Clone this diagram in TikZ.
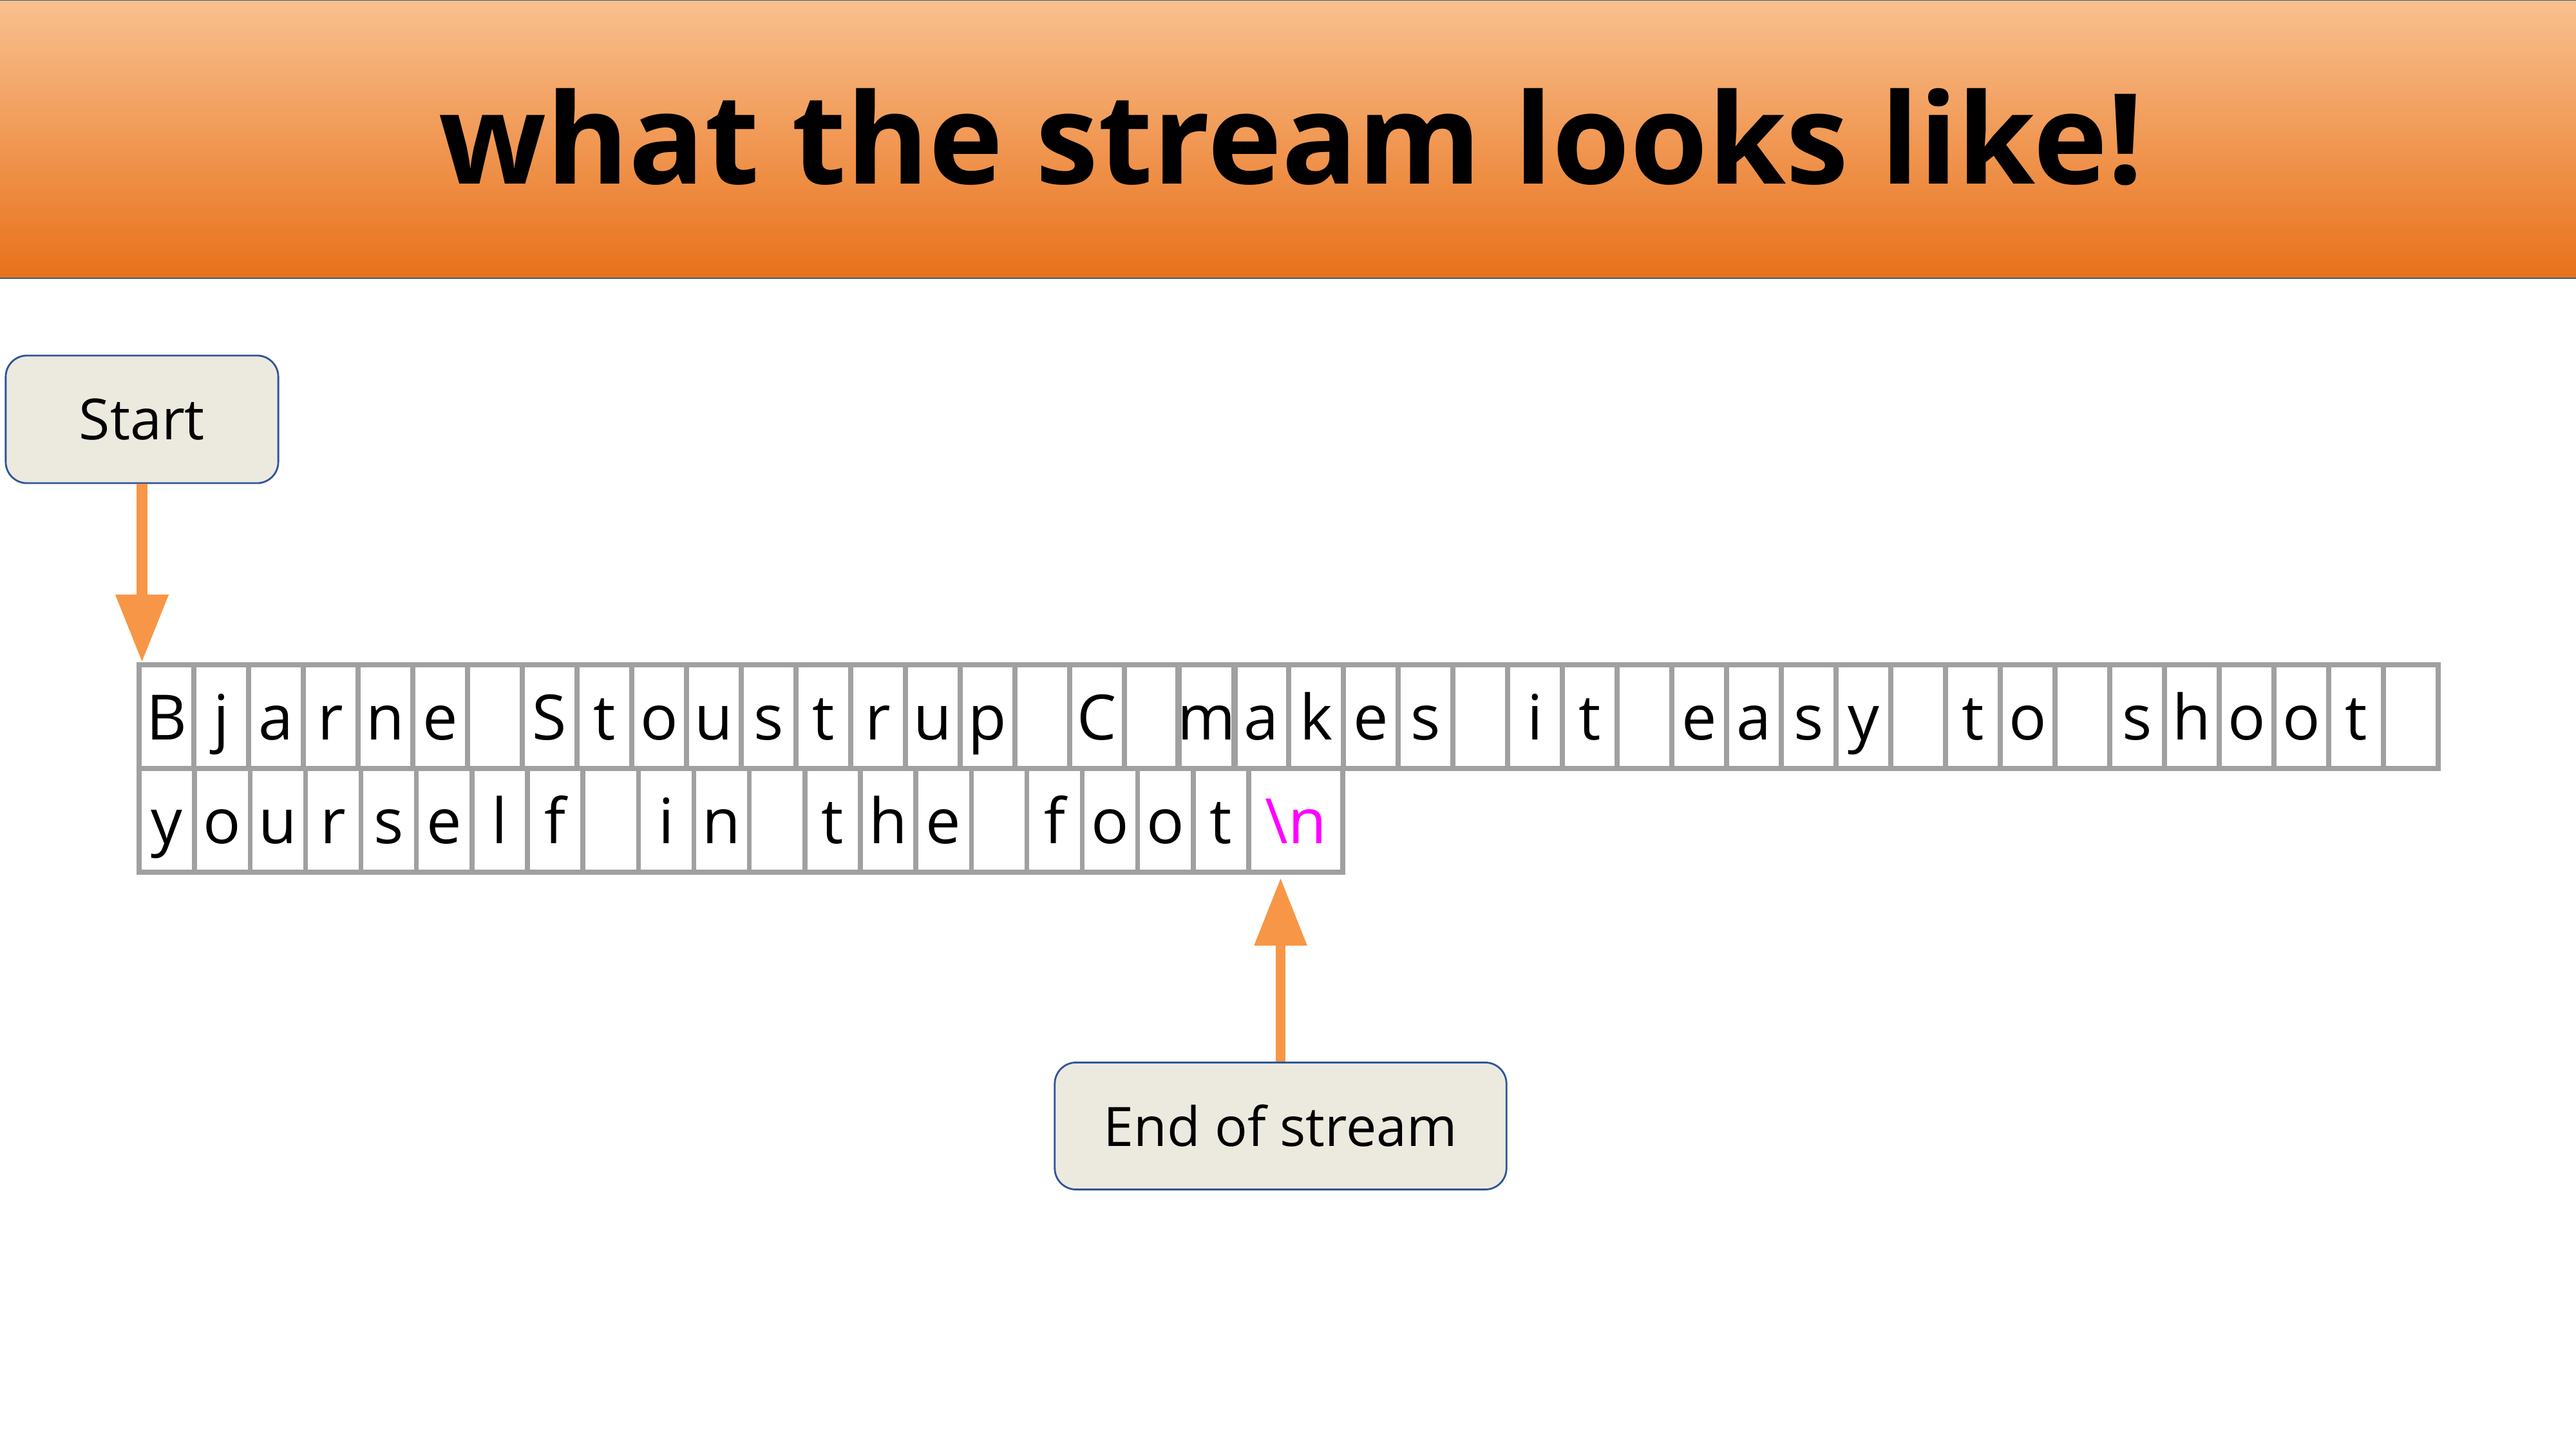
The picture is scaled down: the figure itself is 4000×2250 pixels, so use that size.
\documentclass[tikz,border=0pt]{standalone}
\usepackage{fontspec}
\setmainfont{Open Sans}
\usetikzlibrary{arrows.meta}
\definecolor{gridgray}{HTML}{A0A0A0}
\definecolor{headtop}{HTML}{F9C08F}
\definecolor{headbot}{HTML}{E8711A}
\definecolor{headline}{HTML}{3A5A8C}
\definecolor{boxfill}{HTML}{ECEADF}
\definecolor{boxline}{HTML}{2F5597}
\definecolor{arroworange}{HTML}{F79646}
\definecolor{nlmagenta}{HTML}{FF00FF}
\tikzset{
  cell/.style={draw=gridgray, line width=2.1pt, inner sep=0pt,
    minimum height=1.61cm, text height=0.72cm, text depth=0cm,
    font=\fontsize{27.6}{33}\selectfont},
  labelbox/.style={draw=boxline, line width=0.8pt, fill=boxfill,
    rounded corners=0.33cm, inner sep=0pt},
  pointer/.style={draw=arroworange,
    -{Triangle[width=0.78cm,length=1.05cm]}}
}
\begin{document}
\begin{tikzpicture}[x=0.01cm,y=-0.01cm]
\useasboundingbox (0,0) rectangle (4000,2250);

% title bar
\node[draw=headline, line width=0.4pt, top color=headtop, bottom color=headbot,
      minimum width=40cm, minimum height=4.32cm, inner sep=0pt] (header) at (2000,216) {};
\node[anchor=base, inner sep=0pt, font=\fontsize{55.5}{66}\selectfont\bfseries] (title) at (2005,285)
  {what the stream looks like!};

% first line of the stream: one cell per character
\foreach \ch [count=\i] in {B,j,a,r,n,e,{},S,t,o,u,s,t,r,u,p,{},C,{},m,a,k,e,s,{},i,t,{},e,a,s,y,{},t,o,{},s,h,o,o,t,{}}
  \node[cell, minimum width=0.85cm] (a\i) at ({216+85*(\i-0.5)},1112.5) {\ch};

% second line of the stream
\foreach \ch [count=\i] in {y,o,u,r,s,e,l,f,{},i,n,{},t,h,e,{},f,o,o,t}
  \node[cell, minimum width=0.8615cm] (b\i) at ({216+86.15*(\i-0.5)},1273.5) {\ch};
\node[cell, minimum width=1.46cm, text=nlmagenta] (bn) at (2012,1273.5) {\textbackslash n};

% labels
\node[labelbox, minimum width=4.23cm, minimum height=1.98cm,
      font=\fontsize{25}{30}\selectfont] (start) at (220.5,651) {Start};
\node[labelbox, minimum width=7.01cm, minimum height=1.97cm,
      font=\fontsize{24}{29}\selectfont] (eos) at (1988.5,1748) {End of stream};

% pointers into the stream
\draw[pointer, line width=4.8pt] (start.south) -- (start.south |- a1.north);
\draw[pointer, line width=4.3pt] (eos.north) -- ([yshift=-0.05cm]eos.north |- bn.south);
\end{tikzpicture}
\end{document}
